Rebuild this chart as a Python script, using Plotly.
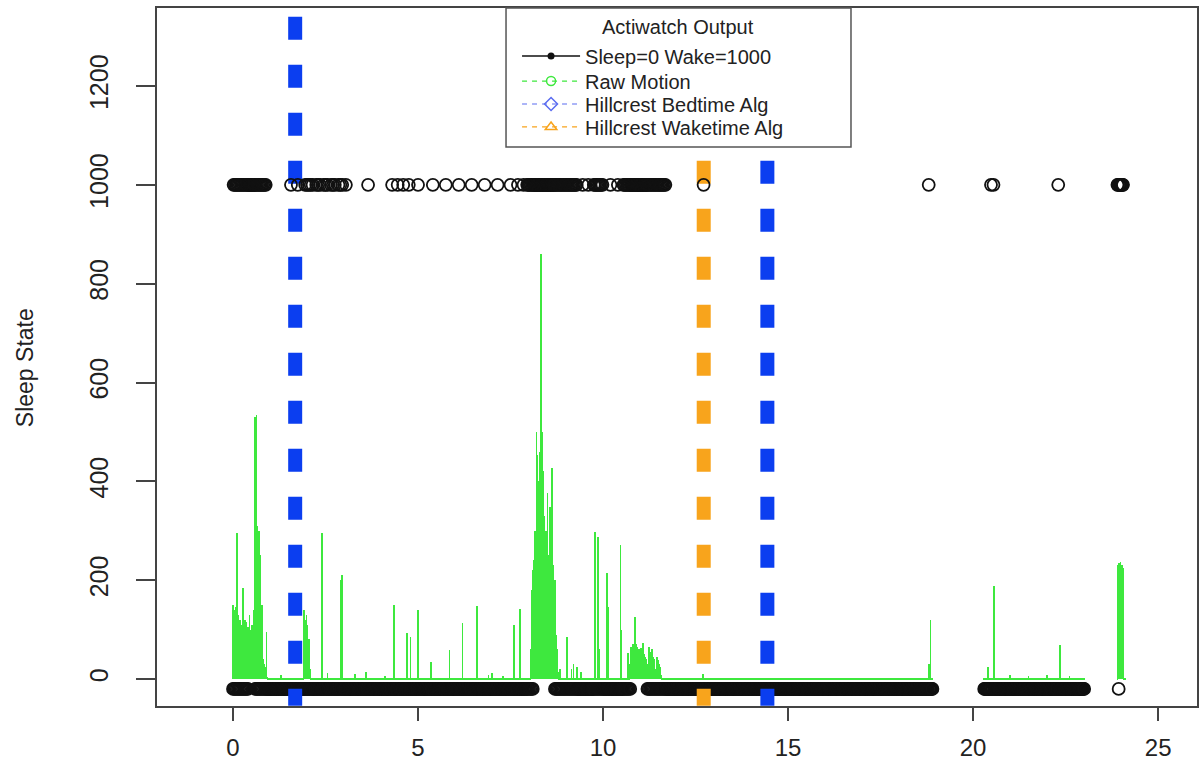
import plotly.graph_objects as go

# ---------------- data ----------------
x_ticks = [0, 5, 10, 15, 20, 25]
y_ticks = [0, 200, 400, 600, 800, 1000, 1200]

WAKE_VALUE = 1000
SLEEP_VALUE = -20          # sleep epochs are drawn just below 0
MOTION_BASELINE = 3
EPOCH_HOURS = 1 / 60

# hours with data (1-minute epochs)
recorded_intervals = [(0.0, 18.9), (20.3, 23.0), (23.9, 24.1)]

# runs of sleep epochs (bottom row) and dense wake epochs (top row), hours
sleep_runs = [(0.0, 0.4), (0.6, 8.1), (8.7, 10.75), (11.2, 18.9), (20.3, 23.0), (23.93, 23.94)]
wake_runs = [(0.0, 0.9), (7.95, 9.3), (9.75, 10.0), (10.55, 11.7), (23.9, 24.05)]
# single wake epochs (open circles on the top row), hours
wake_isolated = [1.57, 1.75, 1.95, 2.0, 2.05, 2.1, 2.15, 2.25, 2.3, 2.35, 2.45, 2.5, 2.55,
                 2.65, 2.7, 2.75, 2.85, 2.9, 2.95, 3.05,
                 3.65, 4.3, 4.45, 4.6, 4.75, 5.0, 5.4, 5.75, 6.1, 6.45, 6.8, 7.15, 7.5, 7.7,
                 7.85, 9.45, 9.6, 10.2, 10.4, 12.72, 18.8, 20.48, 20.55, 22.3]

# raw motion: isolated spikes (hour, counts)
spike_hours = [1.3, 2.4, 2.55, 2.9, 2.95, 3.3, 3.6, 4.1, 4.35, 4.7, 4.8, 5.0, 5.35, 5.85,
               6.2, 6.6, 6.9, 7.0, 7.3, 7.6, 7.75, 8.84, 9.03, 9.15, 9.2, 9.3, 9.4, 9.78,
               9.87, 9.9, 10.1, 10.13, 10.46, 10.5, 10.67, 12.7, 18.8, 18.85, 20.4, 20.57,
               21.0, 21.5, 22.0, 22.35, 22.6]
spike_counts = [8, 295, 12, 200, 210, 10, 14, 6, 150, 93, 85, 140, 35, 58,
                113, 148, 8, 12, 6, 109, 141, 20, 85, 20, 30, 25, 15, 297,
                287, 60, 214, 145, 271, 100, 52, 10, 30, 119, 25, 188,
                8, 6, 8, 69, 6]

# raw motion: dense bursts, one value per minute from the start hour
burst_start_hours = [0.0, 1.9, 8.05, 10.73, 23.92]
burst_counts = [
    [150, 60, 140, 90, 145, 110, 295, 80, 130, 100, 70, 120, 95, 60, 110, 85, 185, 100,
     75, 120, 90, 60, 115, 80, 105, 70, 95, 130, 85, 100, 65, 110, 90, 140, 75, 120,
     530, 180, 535, 260, 310, 200, 300, 150, 250, 120, 90, 150, 60, 40, 20, 30, 10, 25,
     95, 5],
    [40, 140, 60, 120, 90, 130, 70, 110, 50, 80, 30, 20],
    [60, 180, 120, 220, 160, 240, 190, 300, 210, 500, 260, 453, 330, 400, 240, 460, 860,
     350, 500, 280, 420, 230, 330, 260, 300, 200, 280, 376, 220, 250, 190, 348, 210, 260,
     427, 180, 230, 150, 200, 200, 120, 90, 60, 30, 15],
    [30, 65, 40, 60, 50, 70, 45, 60, 125, 55, 70, 40, 65, 50, 60, 35, 55, 45, 62, 40, 58,
     73, 50, 35, 45, 25, 40, 30, 20, 10, 65, 40, 55, 30, 48, 60, 35, 45, 25, 40, 20, 10,
     5, 45, 30, 38, 20, 30, 15, 25, 8, 5],
    [230, 200, 235, 220, 237, 210, 230, 180, 225, 200],
]

# algorithm marks (hours) and the height each dotted line reaches
bedtime_hours = [1.68, 14.44]
bedtime_tops = [1400, 1050]
waketime_hours = [12.72]
waketime_tops = [1050]
LINE_BOTTOM = -54

legend_title = "Actiwatch Output"
legend_names = ["Sleep=0 Wake=1000", "Raw Motion", "Hillcrest Bedtime Alg", "Hillcrest Waketime Alg"]

# ---------------- build epoch series ----------------
def in_runs(t, runs):
    return any(a - 1e-9 <= t <= b + 1e-9 for a, b in runs)

iso_minutes = {round(h * 60) for h in wake_isolated}
motion = {}
for h, c in zip(spike_hours, spike_counts):
    motion[round(h * 60)] = c
for h0, vals in zip(burst_start_hours, burst_counts):
    m0 = round(h0 * 60)
    for i, v in enumerate(vals):
        motion[m0 + i] = v

sleep_x, wake_x = [], []
motion_x, motion_y = [], []
for a, b in recorded_intervals:
    for m in range(round(a * 60), round(b * 60) + 1):
        t = m / 60.0
        s, w = in_runs(t, sleep_runs), in_runs(t, wake_runs)
        if m in iso_minutes:
            state = "wake"
        elif s and w:
            state = "wake" if m % 2 else "sleep"
        elif w:
            state = "wake"
        elif s:
            state = "sleep"
        else:
            state = None
        if state == "wake":
            wake_x.append(t)
        elif state == "sleep":
            sleep_x.append(t)
        motion_x.append(t)
        motion_y.append(motion.get(m, MOTION_BASELINE))

# ---------------- figure ----------------
BLACK = "#111111"
GREEN = "#3ee83e"
BLUE = "#0b3ef0"
LEG_BLUE = "#5a6cf0"
ORANGE = "#f8a41c"
DOTS = "17px,25px,6px,0px"   # R lty=3 rhythm: 23px on / 25px off
FONT = "Liberation Sans, Arial, Helvetica, sans-serif"
TXT = "#222222"
AX = "#444444"

fig = go.Figure()

fig.add_trace(go.Bar(x=motion_x, y=motion_y, width=EPOCH_HOURS,
                     marker=dict(color=GREEN, line=dict(width=0)),
                     showlegend=False, hoverinfo="skip"))
fig.add_trace(go.Scatter(x=sleep_x, y=[SLEEP_VALUE] * len(sleep_x), mode="markers",
                         marker=dict(symbol="circle-open", size=12, color=BLACK,
                                     line=dict(width=1.8, color=BLACK)),
                         showlegend=False, hoverinfo="skip"))
for hx, top in zip(waketime_hours, waketime_tops):
    fig.add_trace(go.Scatter(x=[hx, hx], y=[LINE_BOTTOM, top], mode="lines",
                             line=dict(color=ORANGE, width=14, dash=DOTS),
                             showlegend=False, hoverinfo="skip"))
for hx, top in zip(bedtime_hours, bedtime_tops):
    fig.add_trace(go.Scatter(x=[hx, hx], y=[LINE_BOTTOM, top], mode="lines",
                             line=dict(color=BLUE, width=14, dash=DOTS),
                             showlegend=False, hoverinfo="skip"))
fig.add_trace(go.Scatter(x=wake_x, y=[WAKE_VALUE] * len(wake_x), mode="markers",
                         marker=dict(symbol="circle-open", size=12, color=BLACK,
                                     line=dict(width=1.8, color=BLACK)),
                         showlegend=False, hoverinfo="skip"))

# legend entries (one small legend per row so the row spacing matches)
legend_styles = [
    dict(line=dict(color=BLACK, width=1.5),
         marker=dict(symbol="circle", size=7, color=BLACK)),
    dict(line=dict(color=GREEN, width=1.2, dash="5px,5px"),
         marker=dict(symbol="circle-open", size=9, color=GREEN, line=dict(width=1.5, color=GREEN))),
    dict(line=dict(color=LEG_BLUE, width=1.2, dash="5px,5px"),
         marker=dict(symbol="diamond-open", size=10, color=LEG_BLUE, line=dict(width=1.5, color=LEG_BLUE))),
    dict(line=dict(color=ORANGE, width=1.2, dash="5px,5px"),
         marker=dict(symbol="triangle-up-open", size=10, color=ORANGE, line=dict(width=1.5, color=ORANGE))),
]
legend_ids = ["legend", "legend2", "legend3", "legend4"]
legend_row_y = [0.9592, 0.9233, 0.8904, 0.8575]
for name, style, lid in zip(legend_names, legend_styles, legend_ids):
    fig.add_trace(go.Scatter(x=[None], y=[None], mode="lines+markers", name=name,
                             legend=lid, **style))

leg_common = dict(x=0.3462, xanchor="left", yanchor="top", bgcolor="rgba(0,0,0,0)",
                  borderwidth=0, font=dict(size=20, family=FONT, color=TXT),
                  itemwidth=58, tracegroupgap=0)

fig.update_layout(
    template="none",
    width=1200, height=763,
    margin=dict(l=157, r=3, t=8, b=57, autoexpand=False),
    paper_bgcolor="white", plot_bgcolor="white",
    font=dict(family=FONT, color=TXT),
    showlegend=True, bargap=0,
    legend=dict(y=legend_row_y[0], **leg_common),
    legend2=dict(y=legend_row_y[1], **leg_common),
    legend3=dict(y=legend_row_y[2], **leg_common),
    legend4=dict(y=legend_row_y[3], **leg_common),
    shapes=[dict(type="rect", xref="paper", yref="paper", x0=0.3356, x1=0.6673,
                 y0=0.8009, y1=1.0, layer="above", fillcolor="white",
                 line=dict(color="#555555", width=1.5))],
    annotations=[
        dict(text="Sleep State", xref="paper", yref="paper", x=0, y=0.484,
             xshift=-132, textangle=-90, showarrow=False,
             xanchor="center", yanchor="middle",
             font=dict(size=23, family=FONT, color=TXT)),
        dict(text=legend_title, xref="paper", yref="paper", x=0.501, y=0.9728,
             showarrow=False, xanchor="center", yanchor="middle",
             font=dict(size=20, family=FONT, color=TXT)),
    ],
)
fig.update_xaxes(range=[-2.054, 26.05], tickvals=x_ticks, ticktext=[str(v) for v in x_ticks],
                 automargin=False, showgrid=False, zeroline=False, showline=True, mirror=True,
                 linecolor=AX, linewidth=1.5, ticks="outside", ticklen=13, tickwidth=1.5,
                 tickcolor=AX, tickfont=dict(size=24, family=FONT, color=TXT),
                 ticklabelstandoff=6)
fig.update_yaxes(range=[-54.6, 1357.8], tickvals=y_ticks, ticktext=[str(v) for v in y_ticks],
                 automargin=False, showgrid=False, zeroline=False, showline=True, mirror=True,
                 linecolor=AX, linewidth=1.5, ticks="outside", ticklen=19, tickwidth=1.5,
                 tickcolor=AX, tickangle=-90,
                 tickfont=dict(size=25, family=FONT, color=TXT),
                 ticklabelstandoff=18)

fig.write_html("out.html")
